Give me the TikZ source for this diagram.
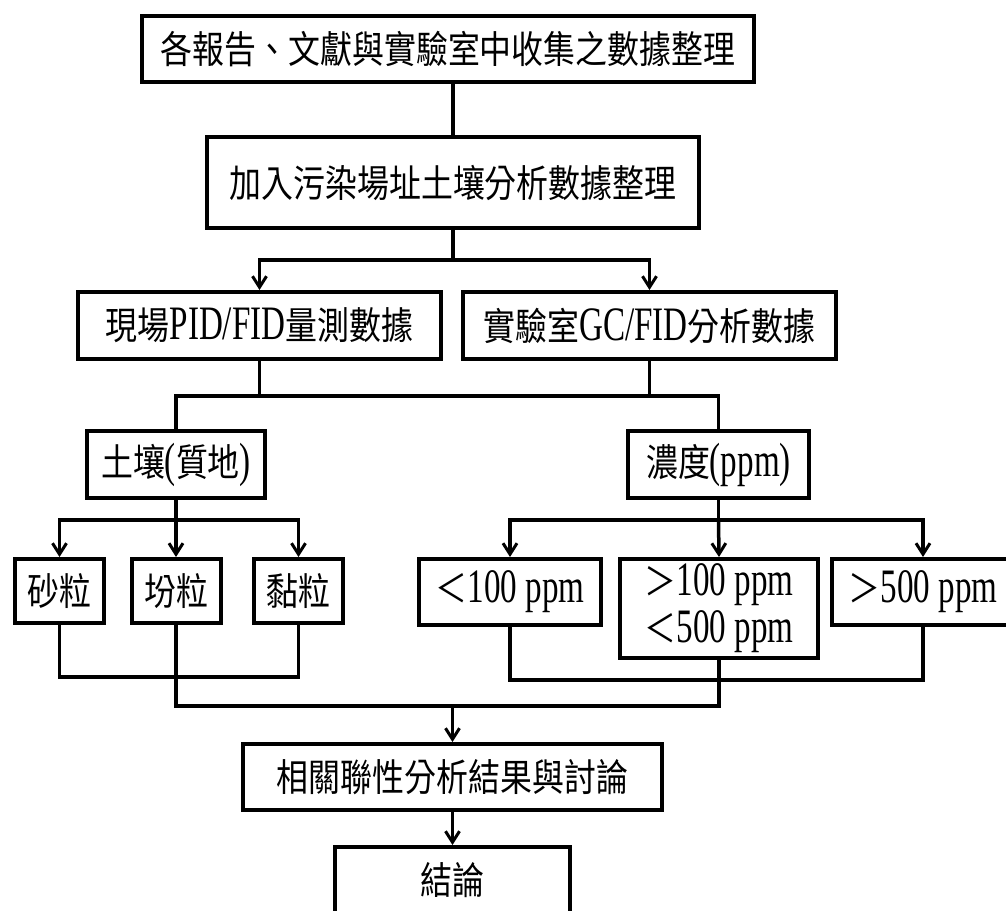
\documentclass[tikz,border=0pt]{standalone}
\usepackage{fontspec}
\setmainfont{Liberation Serif}[FakeStretch=0.69]
\newfontfamily\cjkfam{Noto Sans CJK TC}[FakeStretch=0.84]
\newcommand\cjktxt[1]{{\cjkfam\fontsize{38}{47}\selectfont #1}}
\usetikzlibrary{arrows.meta}
\tikzset{
  box/.style={draw, line width=4pt, inner sep=0pt, align=center,
    font=\fontsize{48}{47}\selectfont},
  conn/.style={line width=3.5pt},
  arr/.style={conn, -{Straight Barb[length=11pt,width=14pt,line width=3pt]}}
}
\begin{document}
\begin{tikzpicture}[x=1pt,y=-1pt]
\useasboundingbox (0,0) rectangle (1006,910);
% nodes
\node[box, minimum width=612, minimum height=66] (b1) at (448,49)
  {\cjktxt{各報告、文獻與實驗室中收集之數據整理}};
\node[box, minimum width=492, minimum height=91] (b2) at (453,182.5)
  {\cjktxt{加入污染場址土壤分析數據整理}};
\node[box, minimum width=363, minimum height=67] (b3) at (259.5,325.5)
  {\cjktxt{現場}PID/FID\cjktxt{量測數據}};
\node[box, minimum width=373, minimum height=67] (b4) at (649.5,325.5)
  {\cjktxt{實驗室}GC/FID\cjktxt{分析數據}};
\node[box, minimum width=178, minimum height=67] (b5) at (176,464.5)
  {\cjktxt{土壤}(\cjktxt{質地})};
\node[box, minimum width=181, minimum height=67] (b6) at (718.5,464.5)
  {\cjktxt{濃度}(ppm)};
\node[box, minimum width=89, minimum height=64] (s1) at (59.5,591)
  {\cjktxt{砂粒}};
\node[box, minimum width=89, minimum height=64] (s2) at (176,591)
  {\cjktxt{坋粒}};
\node[box, minimum width=89, minimum height=64] (s3) at (298.5,591)
  {\cjktxt{黏粒}};
\node[box, minimum width=182, minimum height=66] (c1) at (510,592)
  {\cjktxt{＜}100 ppm};
\node[box, minimum width=198, minimum height=99] (c2) at (719,608.5)
  {\cjktxt{＞}100 ppm\\\cjktxt{＜}500 ppm};
\node[box, minimum width=182, minimum height=66] (c3) at (923,592)
  {\cjktxt{＞}500 ppm};
\node[box, minimum width=419, minimum height=66] (r) at (452.5,777)
  {\cjktxt{相關聯性分析結果與討論}};
\node[box, minimum width=235, minimum height=66] (e) at (452.5,880)
  {\cjktxt{結論}};
% junction levels
\coordinate (j1) at (453,260);
\coordinate (h2) at (0,396);
\coordinate (h3) at (0,520);
\coordinate (h4) at (0,677);
\coordinate (h4r) at (0,680);
\coordinate (h5) at (0,706);
% connectors
\draw[conn] (b2.north |- b1.south) -- (b2.north);
\draw[conn] (b2.south) -- (j1);
\draw[arr] (j1) -| (b3.north);
\draw[arr] (j1) -| (b4.north);
\draw[conn] (b3.south) -- (b3.south |- h2);
\draw[conn] (b4.south) -- (b4.south |- h2);
\draw[conn] (b5.north) -- (b5.north |- h2) -- (b6.north |- h2) -- (b6.north);
\draw[conn] (b5.south) -- (b5.south |- h3);
\draw[arr] (b5.south |- h3) -| (s1.north);
\draw[arr] (b5.south |- h3) -| (s3.north);
\draw[arr] (b5.south |- h3) -- (s2.north);
\draw[conn] (b6.south) -- (b6.south |- h3);
\draw[arr] (b6.south |- h3) -| (c1.north);
\draw[arr] (b6.south |- h3) -| (c3.north);
\draw[arr] (b6.south |- h3) -- (c2.north);
\draw[conn] (s1.south) |- (s3.south |- h4) -- (s3.south);
\draw[conn] (c1.south) |- (c3.south |- h4r) -- (c3.south);
\draw[conn] (s2.south) -- (s2.south |- h5) -| (c2.south);
\draw[arr] (r.north |- h5) -- (r.north);
\draw[arr] (r.south) -- (e.north);
\end{tikzpicture}
\end{document}
